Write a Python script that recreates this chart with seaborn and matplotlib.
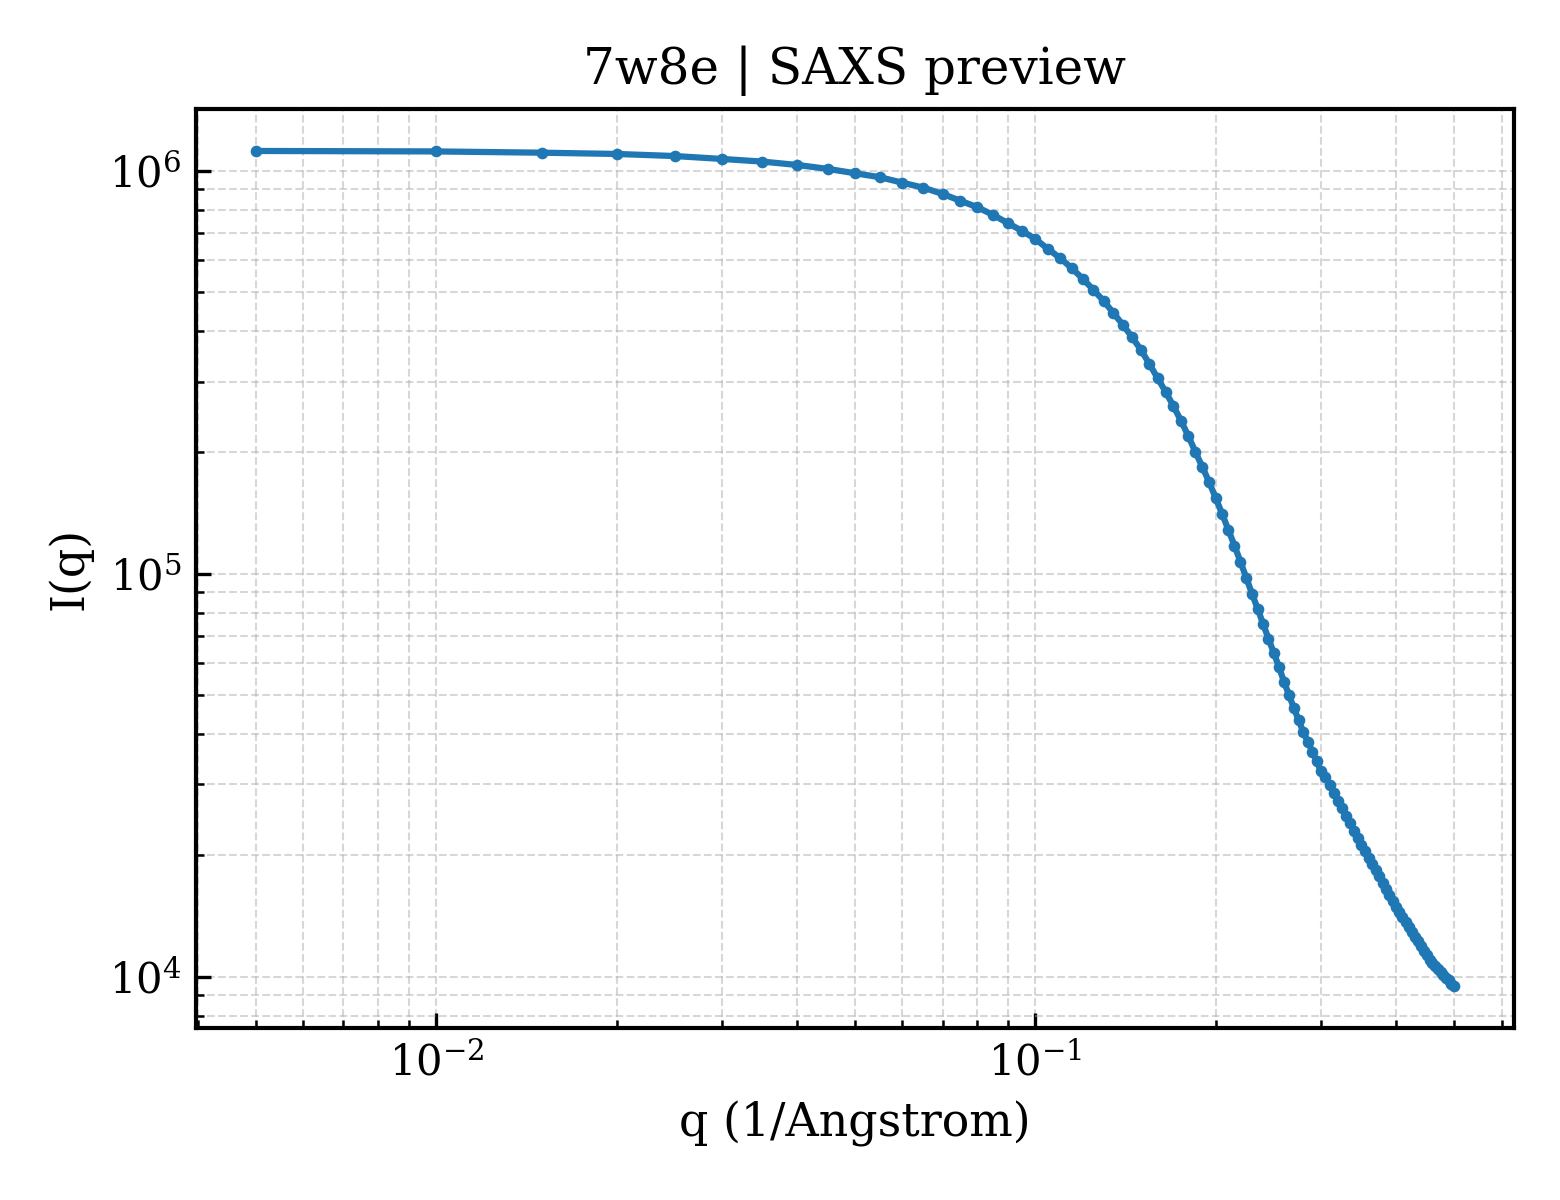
import numpy as np
import pandas as pd
import seaborn as sns
import matplotlib
matplotlib.use("Agg")
import matplotlib.pyplot as plt

q = [0.005, 0.010, 0.015, 0.020, 0.025, 0.030, 0.035, 0.040, 0.045, 0.050,
     0.055, 0.060, 0.065, 0.070, 0.075, 0.080, 0.085, 0.090, 0.095, 0.100,
     0.105, 0.110, 0.115, 0.120, 0.125, 0.130, 0.135, 0.140, 0.145, 0.150,
     0.155, 0.160, 0.165, 0.170, 0.175, 0.180, 0.185, 0.190, 0.195, 0.200,
     0.205, 0.210, 0.215, 0.220, 0.225, 0.230, 0.235, 0.240, 0.245, 0.250,
     0.255, 0.260, 0.265, 0.270, 0.275, 0.280, 0.285, 0.290, 0.295, 0.300,
     0.305, 0.310, 0.315, 0.320, 0.325, 0.330, 0.335, 0.340, 0.345, 0.350,
     0.355, 0.360, 0.365, 0.370, 0.375, 0.380, 0.385, 0.390, 0.395, 0.400,
     0.405, 0.410, 0.415, 0.420, 0.425, 0.430, 0.435, 0.440, 0.445, 0.450,
     0.455, 0.460, 0.465, 0.470, 0.475, 0.480, 0.485, 0.490, 0.495, 0.500]

intensity = [1.121e6, 1.118e6, 1.110e6, 1.102e6, 1.089e6, 1.071e6, 1.055e6, 1.035e6, 1.012e6, 9.87e5,
             9.65e5, 9.35e5, 9.09e5, 8.77e5, 8.43e5, 8.13e5, 7.78e5, 7.42e5, 7.10e5, 6.78e5,
             6.40e5, 6.08e5, 5.74e5, 5.40e5, 5.07e5, 4.76e5, 4.44e5, 4.15e5, 3.87e5, 3.60e5,
             3.32e5, 3.06e5, 2.83e5, 2.61e5, 2.40e5, 2.20e5, 2.008e5, 1.842e5, 1.691e5, 1.543e5,
             1.409e5, 1.286e5, 1.174e5, 1.071e5, 9.77e4, 8.92e4, 8.19e4, 7.51e4, 6.90e4, 6.37e4,
             5.88e4, 5.40e4, 5.01e4, 4.65e4, 4.34e4, 4.05e4, 3.83e4, 3.62e4, 3.42e4, 3.23e4,
             3.122e4, 2.984e4, 2.852e4, 2.729e4, 2.615e4, 2.505e4, 2.402e4, 2.304e4, 2.213e4, 2.126e4,
             2.048e4, 1.975e4, 1.904e4, 1.837e4, 1.775e4, 1.712e4, 1.652e4, 1.594e4, 1.540e4, 1.489e4,
             1.445e4, 1.404e4, 1.366e4, 1.329e4, 1.292e4, 1.257e4, 1.223e4, 1.191e4, 1.160e4, 1.130e4,
             1.101e4, 1.082e4, 1.063e4, 1.045e4, 1.028e4, 1.011e4, 9.94e3, 9.78e3, 9.61e3, 9.46e3]

df = pd.DataFrame({"q": q, "I": intensity})

sns.set_style("ticks")
plt.rcParams["font.family"] = ["DejaVu Serif"]
plt.rcParams["mathtext.fontset"] = "dejavuserif"
plt.rcParams["xtick.direction"] = "in"
plt.rcParams["ytick.direction"] = "in"
plt.rcParams["text.color"] = "black"
plt.rcParams["axes.labelcolor"] = "black"
plt.rcParams["axes.edgecolor"] = "black"
plt.rcParams["xtick.color"] = "black"
plt.rcParams["ytick.color"] = "black"

fig, ax = plt.subplots(figsize=(5.2, 4), dpi=300)
sns.lineplot(data=df, x="q", y="I", ax=ax, color="#1f77b4",
             marker="o", markersize=2.8, markeredgewidth=0, linewidth=1.5)
ax.set_xscale("log")
ax.set_yscale("log")
ax.margins(0.05)

ax.grid(True, which="both", linestyle="--", linewidth=0.5, color="#b0b0b0", alpha=0.5)
ax.tick_params(axis="both", which="major", labelsize=10, length=3.5, width=0.8)
ax.tick_params(axis="both", which="minor", length=2, width=0.6)
for s in ax.spines.values():
    s.set_linewidth(1.0)

ax.set_title("7w8e | SAXS preview", fontsize=12)
ax.set_xlabel("q (1/Angstrom)", fontsize=11)
ax.set_ylabel("I(q)", fontsize=11)

plt.subplots_adjust(left=0.1256, right=0.9705, top=0.909, bottom=0.1433)
plt.savefig("out.png", dpi=300)
